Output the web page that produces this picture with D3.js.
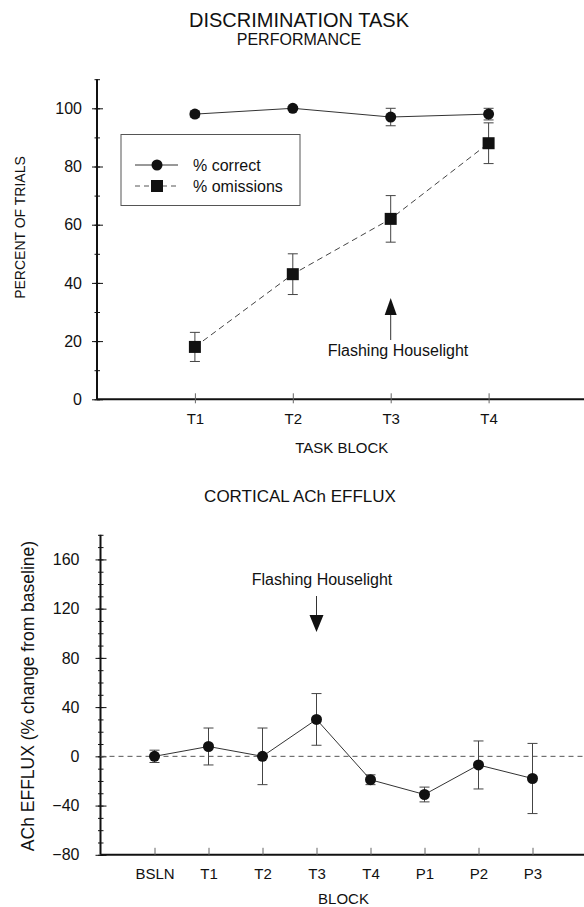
<!DOCTYPE html>
<html>
<head>
<meta charset="utf-8">
<script src="https://cdn.jsdelivr.net/npm/d3@7"></script>
<style>
  html, body { margin: 0; padding: 0; background: #fff; }
  svg { display: block; font-family: "Liberation Sans", Arial, sans-serif; }
</style>
</head>
<body>
<script>
// ---------- DATA ----------
const topCategories = ["T1", "T2", "T3", "T4"];
const correctMean = [98, 100, 97, 98];
const correctErr = [1, 0.5, 3, 2];
const omissionMean = [18, 43, 62, 88];
const omissionErr = [5, 7, 8, 7];
const topYTicks = [0, 20, 40, 60, 80, 100];

const bottomCategories = ["BSLN", "T1", "T2", "T3", "T4", "P1", "P2", "P3"];
const achMean = [0, 8, 0, 30, -19, -31, -7, -18];
const achErr = [5, 15, 23, 21, 4, 6, 19.5, 28.5];
const bottomYTicks = [-80, -40, 0, 40, 80, 120, 160];

// ---------- SETUP ----------
const W = 584, H = 907;
const svg = d3.select("body").append("svg").attr("width", W).attr("height", H);
const ink = "#111";

// ---------- TITLES ----------
svg.append("text").attr("x", 299).attr("y", 27).attr("text-anchor", "middle")
  .attr("font-size", 20).attr("fill", ink).text("DISCRIMINATION TASK");
svg.append("text").attr("x", 299).attr("y", 45).attr("text-anchor", "middle")
  .attr("font-size", 16).attr("fill", ink).text("PERFORMANCE");

// ---------- TOP CHART ----------
const xT = d3.scaleLinear().domain([0, 5]).range([97, 586.5]);
const yT = d3.scaleLinear().domain([0, 110]).range([399.3, 79.2]);
const gTop = svg.append("g");

// y axis minor ticks
const yMinorT = d3.range(0, 111, 10);
gTop.append("g").attr("transform", `translate(${xT(0)},0)`)
  .call(d3.axisLeft(yT).tickValues(yMinorT).tickSize(0).tickFormat(""))
  .call(g => g.select(".domain").remove())
  .selectAll(".tick").append("line").attr("x1", -2.5).attr("x2", 3).attr("stroke", ink);
// y axis major
const yAxT = gTop.append("g").attr("transform", `translate(${xT(0)},0)`)
  .call(d3.axisLeft(yT).tickValues(topYTicks).tickSize(5).tickPadding(10));
yAxT.select(".domain").attr("stroke", ink).attr("stroke-width", 2)
  .attr("d", `M0,${yT(110)}V${yT(0)}`);
yAxT.selectAll(".tick line").attr("x1", -5).attr("x2", 6).attr("stroke", ink);
yAxT.selectAll(".tick text").attr("font-size", 16).attr("fill", ink)
  .attr("font-family", "Liberation Sans, Arial, sans-serif");

// x axis
const xAxT = gTop.append("g").attr("transform", `translate(0,${yT(0)})`)
  .call(d3.axisBottom(xT).tickValues([1, 2, 3, 4]).tickFormat(d => topCategories[d - 1]).tickSize(4).tickPadding(10));
xAxT.select(".domain").attr("stroke", ink).attr("stroke-width", 2).attr("d", `M${xT(0)},0H${W}`);
xAxT.selectAll(".tick line").attr("y1", -6).attr("y2", 4).attr("stroke", "#666");
xAxT.selectAll(".tick text").attr("font-size", 15).attr("fill", ink)
  .attr("font-family", "Liberation Sans, Arial, sans-serif");

svg.append("text").attr("x", xT(2.5)).attr("y", 453).attr("text-anchor", "middle")
  .attr("font-size", 15).attr("fill", ink).text("TASK BLOCK");
svg.append("text").attr("transform", `translate(25,${227.5}) rotate(-90)`).attr("text-anchor", "middle")
  .attr("font-size", 14).attr("fill", ink).text("PERCENT OF TRIALS");

// error bars
function errBars(g, xs, ys, means, errs, cap) {
  const eg = g.append("g").attr("stroke", "#444").attr("stroke-width", 1);
  means.forEach((m, i) => {
    const x = xs(i), yTop = ys(m + errs[i]), yBot = ys(m - errs[i]);
    eg.append("line").attr("x1", x).attr("x2", x).attr("y1", yTop).attr("y2", yBot);
    eg.append("line").attr("x1", x - cap).attr("x2", x + cap).attr("y1", yTop).attr("y2", yTop);
    eg.append("line").attr("x1", x - cap).attr("x2", x + cap).attr("y1", yBot).attr("y2", yBot);
  });
}
const topX = i => xT(i + 1);
errBars(gTop, topX, yT, correctMean, correctErr, 5);
errBars(gTop, topX, yT, omissionMean, omissionErr, 5);

// lines
const lineTop = d3.line().x((d, i) => topX(i)).y(d => yT(d));
gTop.append("path").attr("d", lineTop(correctMean)).attr("fill", "none").attr("stroke", "#333").attr("stroke-width", 1);
gTop.append("path").attr("d", lineTop(omissionMean)).attr("fill", "none").attr("stroke", "#444")
  .attr("stroke-width", 1).attr("stroke-dasharray", "6,4");

// markers
gTop.selectAll(".cm").data(correctMean).enter().append("circle")
  .attr("cx", (d, i) => topX(i)).attr("cy", d => yT(d)).attr("r", 5.5).attr("fill", ink);
gTop.selectAll(".om").data(omissionMean).enter().append("rect")
  .attr("x", (d, i) => topX(i) - 6).attr("y", d => yT(d) - 6).attr("width", 12).attr("height", 12).attr("fill", ink);

// legend
const lg = gTop.append("g");
lg.append("rect").attr("x", 121).attr("y", 134.5).attr("width", 179).attr("height", 71)
  .attr("fill", "#fff").attr("stroke", "#555").attr("stroke-width", 1);
lg.append("line").attr("x1", 135).attr("x2", 178).attr("y1", 165).attr("y2", 165).attr("stroke", "#333");
lg.append("circle").attr("cx", 157).attr("cy", 165).attr("r", 5.5).attr("fill", ink);
lg.append("text").attr("x", 193).attr("y", 170.5).attr("font-size", 16).attr("fill", ink).text("% correct");
lg.append("line").attr("x1", 135).attr("x2", 178).attr("y1", 186).attr("y2", 186).attr("stroke", "#555").attr("stroke-dasharray", "5,4");
lg.append("rect").attr("x", 151).attr("y", 180).attr("width", 12).attr("height", 12).attr("fill", ink);
lg.append("text").attr("x", 193).attr("y", 191.5).attr("font-size", 16).attr("fill", ink).text("% omissions");

// arrow top
const ax1 = topX(2);
gTop.append("line").attr("x1", ax1).attr("x2", ax1).attr("y1", 312).attr("y2", 340).attr("stroke", "#333");
gTop.append("path").attr("d", `M${ax1},298 L${ax1 - 6},315 L${ax1 + 6},315 Z`).attr("fill", ink);
gTop.append("text").attr("x", 398).attr("y", 356).attr("text-anchor", "middle")
  .attr("font-size", 16).attr("fill", ink).text("Flashing Houselight");

// ---------- BOTTOM CHART ----------
svg.append("text").attr("x", 300).attr("y", 502).attr("text-anchor", "middle")
  .attr("font-size", 17).attr("fill", ink).text("CORTICAL ACh EFFLUX");

const xB = d3.scaleLinear().domain([-1, 8]).range([100.5, 586.5]);
const yB = d3.scaleLinear().domain([-80, 180]).range([854.8, 534.8]);
const gB = svg.append("g");

// minor y ticks
gB.append("g").attr("transform", `translate(${xB(-1)},0)`)
  .call(d3.axisLeft(yB).tickValues(d3.range(-80, 181, 10)).tickSize(0).tickFormat(""))
  .call(g => g.select(".domain").remove())
  .selectAll(".tick").append("line").attr("x1", -2.5).attr("x2", 3).attr("stroke", ink);
const yAxB = gB.append("g").attr("transform", `translate(${xB(-1)},0)`)
  .call(d3.axisLeft(yB).tickValues(bottomYTicks).tickSize(5).tickPadding(16)
    .tickFormat(d => d < 0 ? "\u2212" + Math.abs(d) : d));
yAxB.select(".domain").attr("stroke", ink).attr("stroke-width", 2)
  .attr("d", `M0,${yB(180)}V${yB(-80)}`);
yAxB.selectAll(".tick line").attr("x1", -5).attr("x2", 6).attr("stroke", ink);
yAxB.selectAll(".tick text").attr("font-size", 16).attr("fill", ink)
  .attr("font-family", "Liberation Sans, Arial, sans-serif");

const xAxB = gB.append("g").attr("transform", `translate(0,${yB(-80)})`)
  .call(d3.axisBottom(xB).tickValues(d3.range(0, 8)).tickFormat(d => bottomCategories[d]).tickSize(4).tickPadding(10));
xAxB.select(".domain").attr("stroke", ink).attr("stroke-width", 2).attr("d", `M${xB(-1)},0H${W}`);
xAxB.selectAll(".tick line").attr("y1", -7).attr("y2", 0).attr("stroke", "#666");
xAxB.selectAll(".tick text").attr("font-size", 15).attr("fill", ink)
  .attr("font-family", "Liberation Sans, Arial, sans-serif");

svg.append("text").attr("x", xB(3.5)).attr("y", 904).attr("text-anchor", "middle")
  .attr("font-size", 15).attr("fill", ink).text("BLOCK");
svg.append("text").attr("transform", `translate(34,${696}) rotate(-90)`).attr("text-anchor", "middle")
  .attr("font-size", 17.5).attr("fill", ink).text("ACh EFFLUX (% change from baseline)");

// zero dashed line
gB.append("line").attr("x1", xB(-1)).attr("x2", W).attr("y1", yB(0)).attr("y2", yB(0))
  .attr("stroke", "#555").attr("stroke-dasharray", "5,4");

const botX = i => xB(i);
errBars(gB, botX, yB, achMean, achErr, 5);
const lineB = d3.line().x((d, i) => botX(i)).y(d => yB(d));
gB.append("path").attr("d", lineB(achMean)).attr("fill", "none").attr("stroke", "#333").attr("stroke-width", 1);
gB.selectAll(".am").data(achMean).enter().append("circle")
  .attr("cx", (d, i) => botX(i)).attr("cy", d => yB(d)).attr("r", 5.5).attr("fill", ink);

// arrow bottom
const ax2 = botX(3);
gB.append("line").attr("x1", ax2).attr("x2", ax2).attr("y1", 596).attr("y2", 618).attr("stroke", "#333");
gB.append("path").attr("d", `M${ax2 - 7},615 L${ax2 + 7},615 L${ax2},632 Z`).attr("fill", ink);
gB.append("text").attr("x", 322).attr("y", 585).attr("text-anchor", "middle")
  .attr("font-size", 16).attr("fill", ink).text("Flashing Houselight");
</script>
</body>
</html>
